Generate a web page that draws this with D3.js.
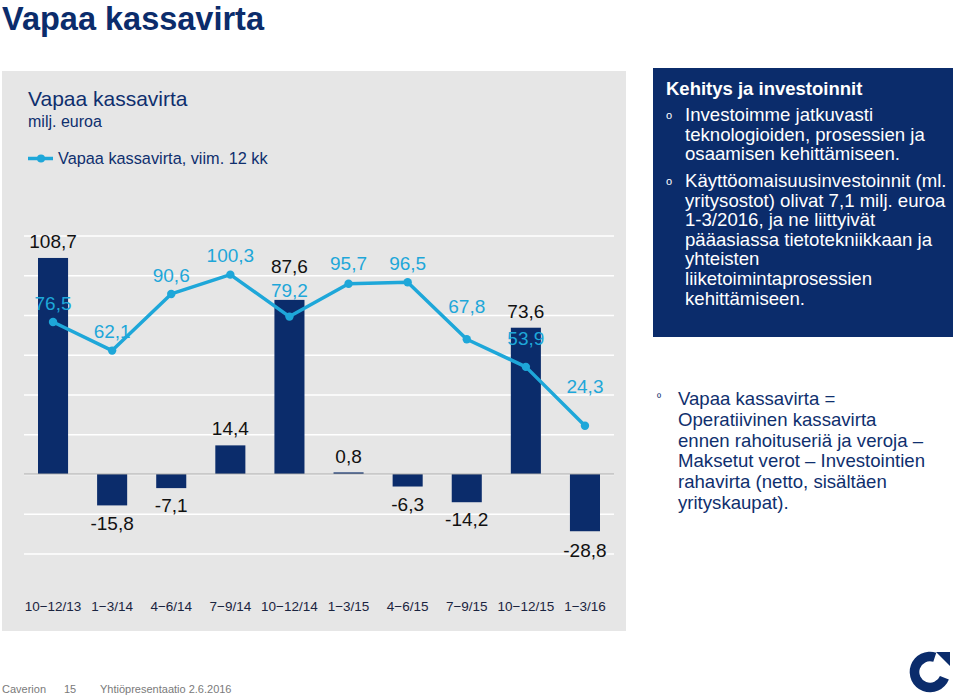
<!DOCTYPE html>
<html><head><meta charset="utf-8">
<script src="https://cdn.jsdelivr.net/npm/d3@7"></script>
<style>
html,body{margin:0;padding:0;background:#fff;}
svg{display:block;font-family:"Liberation Sans",Arial,Helvetica,sans-serif;}
</style></head>
<body>
<svg id="c" width="959" height="697"></svg>
<script>
// ---- data ----
const categories = ["10\u221212/13","1\u22123/14","4\u22126/14","7\u22129/14","10\u221212/14","1\u22123/15","4\u22126/15","7\u22129/15","10\u221212/15","1\u22123/16"];
const quarterly = [108.7,-15.8,-7.1,14.4,87.6,0.8,-6.3,-14.2,73.6,-28.8];
const rolling12 = [76.5,62.1,90.6,100.3,79.2,95.7,96.5,67.8,53.9,24.3];
const gridTicks = [-40,-20,0,20,40,60,80,100,120];
// label nudges (layout only)
const barLabelDy = [-10,25,24,-10,-27,-9,24,24,-10,26];
const lineLabelDy = [-12,-13,-12,-13,-20,-14,-12,-26,-22,-33];

const navy = "#0b2c6b", cyan = "#1ea7d9", fmt = v => v.toFixed(1).replace(".", ",");
const svg = d3.select("#c");

// page title
svg.append("text").attr("x",2).attr("y",30).attr("font-size",32.5).attr("font-weight","bold")
  .attr("fill","#0b2c6b").text("Vapaa kassavirta");

// grey panel
svg.append("rect").attr("x",2).attr("y",71).attr("width",624).attr("height",560).attr("fill","#e6e6e6");

const x = d3.scaleBand().domain(categories).range([24,614]).paddingInner(0.4915).paddingOuter(0.237);
const y = d3.scaleLinear().domain([-40,120]).range([553.5,235.5]);

// gridlines
const g = svg.append("g").attr("transform","translate(24,0)")
  .call(d3.axisLeft(y).tickValues(gridTicks).tickSize(-590).tickFormat(""));
g.select(".domain").remove();
g.selectAll(".tick line").attr("stroke","#ffffff").attr("stroke-width",1.5);

// chart texts
svg.append("text").attr("x",28).attr("y",106).attr("font-size",21).attr("fill","#0f2f6e").text("Vapaa kassavirta");
svg.append("text").attr("x",28).attr("y",127).attr("font-size",16).attr("fill","#0f2f6e").text("milj. euroa");
svg.append("line").attr("x1",28).attr("x2",53).attr("y1",158.5).attr("y2",158.5).attr("stroke",cyan).attr("stroke-width",3.5);
svg.append("circle").attr("cx",41).attr("cy",158.5).attr("r",4).attr("fill",cyan);
svg.append("text").attr("x",58).attr("y",164).attr("font-size",16.3).attr("fill","#0f2f6e").text("Vapaa kassavirta, viim. 12 kk");

// bars
svg.append("g").selectAll("rect").data(quarterly).join("rect")
  .attr("x",(d,i)=>x(categories[i])).attr("width",x.bandwidth())
  .attr("y",d=>y(Math.max(0,d))).attr("height",d=>Math.abs(y(d)-y(0)))
  .attr("fill",navy);

// zero line
svg.append("line").attr("x1",24).attr("x2",614).attr("y1",y(0)).attr("y2",y(0)).attr("stroke","#a6a6a6").attr("stroke-width",1.2);

// line
const cx = i => x(categories[i]) + x.bandwidth()/2;
svg.append("path").datum(rolling12)
  .attr("d",d3.line().x((d,i)=>cx(i)).y(d=>y(d)))
  .attr("fill","none").attr("stroke",cyan).attr("stroke-width",3.5).attr("stroke-linejoin","round");
svg.append("g").selectAll("circle").data(rolling12).join("circle")
  .attr("cx",(d,i)=>cx(i)).attr("cy",d=>y(d)).attr("r",4.2).attr("fill",cyan);

// bar labels
svg.append("g").selectAll("text").data(quarterly).join("text")
  .attr("x",(d,i)=>cx(i)).attr("y",(d,i)=>y(d)+barLabelDy[i])
  .attr("text-anchor","middle").attr("font-size",19).attr("fill","#111")
  .text(d=>fmt(d));

// line labels
svg.append("g").selectAll("text").data(rolling12).join("text")
  .attr("x",(d,i)=>cx(i)).attr("y",(d,i)=>y(d)+lineLabelDy[i])
  .attr("text-anchor","middle").attr("font-size",19).attr("fill",cyan)
  .text(d=>fmt(d));

// x labels
svg.append("g").selectAll("text").data(categories).join("text")
  .attr("x",(d,i)=>cx(i)).attr("y",611).attr("text-anchor","middle")
  .attr("font-size",13.5).attr("fill","#1a2440").text(d=>d);

// right navy box
svg.append("rect").attr("x",653).attr("y",68).attr("width",300).attr("height",269).attr("fill",navy);
svg.append("text").attr("x",666).attr("y",95).attr("font-size",18.5).attr("font-weight","bold").attr("fill","#fff").text("Kehitys ja investoinnit");
const box1 = [["Investoimme jatkuvasti","teknologioiden, prosessien ja","osaamisen kehittämiseen."],
  ["Käyttöomaisuusinvestoinnit (ml.","yritysostot) olivat 7,1 milj. euroa","1-3/2016, ja ne liittyivät","pääasiassa tietotekniikkaan ja","yhteisten","liiketoimintaprosessien","kehittämiseen."]];
const startY = [121,187];
box1.forEach((lines,bi)=>{
  svg.append("text").attr("x",666).attr("y",startY[bi]-2).attr("font-size",11).attr("fill","#fff").text("o");
  const t = svg.append("text").attr("font-size",18.6).attr("fill","#fff");
  lines.forEach((l,li)=>t.append("tspan").attr("x",685).attr("y",startY[bi]+li*19.6).text(l));
});

// lower definition text
svg.append("text").attr("x",657).attr("y",401).attr("font-size",11).attr("fill","#0f2f6e").text("º");
const box2 = ["Vapaa kassavirta =","Operatiivinen kassavirta","ennen rahoituseriä ja veroja –","Maksetut verot – Investointien","rahavirta (netto, sisältäen","yrityskaupat)."];
const t2 = svg.append("text").attr("font-size",18.6).attr("fill","#0f2f6e");
box2.forEach((l,li)=>t2.append("tspan").attr("x",678).attr("y",405+li*20.8).text(l));

// footer
const foot = svg.append("g").attr("font-size",11).attr("fill","#7a7a7a");
foot.append("text").attr("x",2).attr("y",693).text("Caverion");
foot.append("text").attr("x",64).attr("y",693).text("15");
foot.append("text").attr("x",100).attr("y",693).text("Yhtiöpresentaatio 2.6.2016");

// logo
const lc = [930,672], r = 15.5;
const arc = d3.arc().innerRadius(r-4.8).outerRadius(r+4.8).startAngle(Math.PI*0.62).endAngle(Math.PI*2.1);
svg.append("path").attr("transform",`translate(${lc[0]},${lc[1]})`).attr("d",arc()).attr("fill",navy);
svg.append("path").attr("d",`M${lc[0]+6},${lc[1]-20} L${lc[0]+20},${lc[1]-20} L${lc[0]+20},${lc[1]-6} Z`).attr("fill",navy);
</script>
</body></html>
